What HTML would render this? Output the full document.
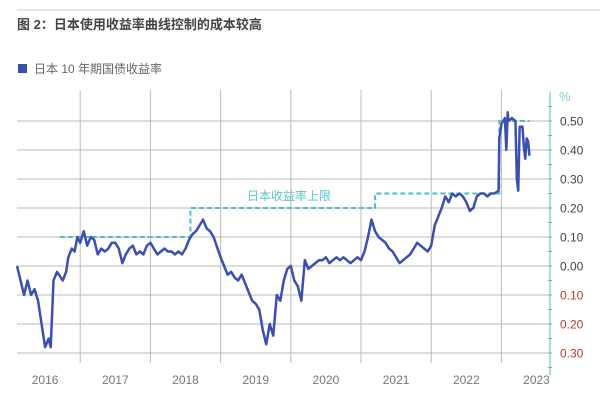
<!DOCTYPE html>
<html><head><meta charset="utf-8"><style>
body{margin:0;background:#fff;width:600px;height:412px;overflow:hidden;font-family:"Liberation Sans","Noto Sans CJK SC",sans-serif}
</style></head><body>
<svg width="600" height="412" xmlns="http://www.w3.org/2000/svg" style="font-family:'Liberation Sans','Noto Sans CJK SC',sans-serif">
<line x1="17" y1="10" x2="600" y2="10" stroke="#ccc" stroke-width="1"/>
<text x="17" y="29" font-size="13" font-weight="bold" fill="#444">图 2：日本使用收益率曲线控制的成本较高</text>
<rect x="18" y="64" width="9" height="9" fill="#3a4fb0"/>
<text x="34" y="73" font-size="12" fill="#666">日本 10 年期国债收益率</text>
<g id="grid"></g>
<g id="axis"></g>
<g id="marks"></g>
</svg>
<script>
const years=[2016,2017,2018,2019,2020,2021,2022,2023];
const yTicks=[0.5,0.4,0.3,0.2,0.1,0,-0.1,-0.2,-0.3];
const yTickLabels=["0.50","0.40","0.30","0.20","0.10","0.00","0.10","0.20","0.30"];
const capTimes=[2016.71,2018.57,2018.57,2021.2,2021.2,2022.97,2022.97,2023.4];
const capValues=[0.10,0.10,0.20,0.20,0.25,0.25,0.50,0.50];
const times=[2016.1,2016.15,2016.2,2016.25,2016.3,2016.35,2016.4,2016.45,2016.5,2016.55,2016.58,2016.62,2016.67,2016.75,2016.8,2016.83,2016.88,2016.92,2016.96,2017.0,2017.05,2017.1,2017.15,2017.2,2017.25,2017.3,2017.35,2017.4,2017.45,2017.5,2017.55,2017.6,2017.65,2017.7,2017.75,2017.8,2017.85,2017.9,2017.95,2018.0,2018.05,2018.1,2018.15,2018.2,2018.25,2018.3,2018.35,2018.4,2018.45,2018.5,2018.55,2018.6,2018.65,2018.7,2018.75,2018.8,2018.85,2018.9,2019.0,2019.05,2019.1,2019.15,2019.2,2019.25,2019.3,2019.35,2019.4,2019.45,2019.5,2019.55,2019.6,2019.65,2019.7,2019.75,2019.8,2019.85,2019.9,2019.95,2020.0,2020.05,2020.1,2020.15,2020.2,2020.25,2020.3,2020.35,2020.4,2020.45,2020.5,2020.55,2020.6,2020.65,2020.7,2020.75,2020.8,2020.85,2020.9,2020.95,2021.0,2021.05,2021.1,2021.15,2021.2,2021.25,2021.3,2021.35,2021.4,2021.45,2021.5,2021.55,2021.6,2021.65,2021.7,2021.75,2021.8,2021.85,2021.9,2021.95,2022.0,2022.05,2022.1,2022.15,2022.2,2022.25,2022.3,2022.35,2022.4,2022.45,2022.5,2022.55,2022.6,2022.65,2022.7,2022.75,2022.8,2022.85,2022.9,2022.96,2022.97,2023.0,2023.05,2023.07,2023.09,2023.1,2023.15,2023.2,2023.22,2023.24,2023.26,2023.3,2023.32,2023.34,2023.36,2023.38,2023.4];
const yields=[0.0,-0.05,-0.10,-0.05,-0.10,-0.08,-0.12,-0.20,-0.28,-0.25,-0.28,-0.05,-0.02,-0.05,-0.02,0.03,0.06,0.05,0.10,0.08,0.12,0.07,0.10,0.09,0.04,0.06,0.05,0.06,0.08,0.08,0.06,0.01,0.04,0.06,0.07,0.04,0.05,0.04,0.07,0.08,0.06,0.04,0.05,0.06,0.05,0.05,0.04,0.05,0.04,0.06,0.09,0.11,0.12,0.14,0.16,0.13,0.12,0.10,0.03,0.00,-0.03,-0.02,-0.04,-0.05,-0.03,-0.06,-0.09,-0.12,-0.13,-0.15,-0.22,-0.27,-0.20,-0.24,-0.10,-0.12,-0.05,-0.01,0.00,-0.05,-0.07,-0.12,0.02,-0.01,0.00,0.01,0.02,0.02,0.03,0.01,0.02,0.03,0.02,0.03,0.02,0.01,0.02,0.03,0.02,0.05,0.10,0.16,0.12,0.10,0.09,0.08,0.06,0.05,0.03,0.01,0.02,0.03,0.04,0.06,0.08,0.07,0.06,0.05,0.07,0.14,0.17,0.20,0.24,0.22,0.25,0.24,0.25,0.24,0.22,0.19,0.20,0.24,0.25,0.25,0.24,0.25,0.25,0.26,0.44,0.49,0.51,0.40,0.53,0.50,0.51,0.50,0.30,0.26,0.48,0.48,0.41,0.37,0.44,0.43,0.38];
const xS=t=>10+(t-2016)*70.2;
const yS=v=>266-v*290;
const NS="http://www.w3.org/2000/svg";
function mk(tag,attrs,parent){const e=document.createElementNS(NS,tag);for(const k in attrs)e.setAttribute(k,attrs[k]);parent.appendChild(e);return e;}
const grid=document.getElementById('grid'),axis=document.getElementById('axis'),marks=document.getElementById('marks');
yTicks.forEach((v,i)=>{
 const l=mk('line',{x1:17,x2:552,y1:yS(v),y2:yS(v),stroke:'#bbb','stroke-width':1},grid);
 
 
 const t=mk('text',{x:560,y:yS(v)+4.5,'font-size':12,fill:v<0?'#c0392b':'#444'},axis);
 t.textContent=yTickLabels[i];
 
 
});
for(let v=0.55;v>=-0.351;v-=0.05){
 const tk=mk('line',{x1:548,x2:552,y1:yS(v),y2:yS(v),stroke:'#5bb8b8','stroke-width':1},axis);
 
 
}
const ax=mk('line',{x1:550,x2:550,y1:92,y2:375,stroke:'#5bb8b8','stroke-width':1},axis);


const pct=mk('text',{x:559,y:101,'font-size':13,fill:'#7fcfd0'},axis);pct.textContent='%';


years.forEach((y,i)=>{
 if(i>0){const l=mk('line',{x1:xS(y),x2:xS(y),y1:90,y2:363,stroke:'#bbb','stroke-width':1},grid);
  
  }
 const t=mk('text',{x:xS(y+0.5),y:384,'font-size':12,fill:'#777','text-anchor':'middle'},axis);
 t.textContent=y;
 
 
});
const cap=mk('polyline',{points:capTimes.map((t,i)=>xS(t)+','+yS(capValues[i])).join(' '),fill:'none',stroke:'#4bbfc7','stroke-width':2,'stroke-dasharray':'5,3'},marks);


const capLbl=mk('text',{x:247,y:200,'font-size':12,fill:'#5bc4c8'},marks);capLbl.textContent='日本收益率上限';


const ln=mk('polyline',{points:times.map((t,i)=>xS(t)+','+yS(yields[i])).join(' '),fill:'none',stroke:'#3a4fb0','stroke-width':2.5,'stroke-linejoin':'round'},marks);


</script>
</body></html>
